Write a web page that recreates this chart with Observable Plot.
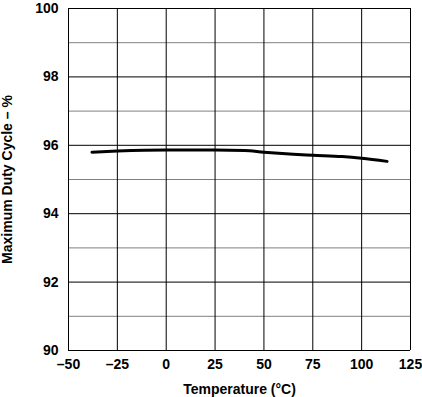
<!DOCTYPE html>
<html><head><meta charset="utf-8">
<script src="https://cdn.jsdelivr.net/npm/d3@7"></script>
<script src="https://cdn.jsdelivr.net/npm/@observablehq/plot@0.6"></script>
<style>
body{margin:0;background:#fff;}
svg{font-family:"Liberation Sans",Arial,sans-serif;font-weight:bold;}
</style></head>
<body><div id="chart"></div>
<script>
const temperature = [-38, -25, 0, 25, 40, 50, 65, 75, 90, 100, 113];
const dutyCycle = [95.80, 95.83, 95.86, 95.86, 95.85, 95.80, 95.74, 95.71, 95.67, 95.62, 95.53];
const xTicks = [-50, -25, 0, 25, 50, 75, 100, 125];
const yTicks = [90, 92, 94, 96, 98, 100];
const yMinor = [91, 93, 95, 97, 99];

const data = temperature.map((t, i) => ({t, v: dutyCycle[i]}));

const chart = Plot.plot({
  width: 422, height: 397,
  marginLeft: 68, marginRight: 12, marginTop: 8, marginBottom: 47,
  style: {fontFamily: '"Liberation Sans", Arial, sans-serif', fontWeight: "bold", fontSize: "14px", background: "#fff", color: "#000"},
  x: {domain: [-50, 125]},
  y: {domain: [90, 100]},
  marks: [
    Plot.ruleY(yMinor, {stroke: "#808080", strokeWidth: 1}),
    Plot.ruleY(yTicks, {stroke: "#000", strokeWidth: 1}),
    Plot.ruleX(xTicks, {stroke: "#000", strokeWidth: 1}),
    Plot.axisX({ticks: xTicks, tickSize: 0, tickPadding: 9, tickFormat: d => d < 0 ? "\u2013" + Math.abs(d) : String(d), label: "Temperature (°C)", labelAnchor: "center", labelArrow: "none", labelOffset: 43, fontSize: 14}),
    Plot.axisY({ticks: yTicks, tickSize: 0, tickPadding: 10, label: "Maximum Duty Cycle \u2013 %", labelAnchor: "center", labelArrow: "none", labelOffset: 66, fontSize: 14}),
    Plot.line(data, {x: "t", y: "v", stroke: "#000", strokeWidth: 3, curve: "monotone-x"})
  ]
});
document.getElementById("chart").append(chart);
</script>
</body></html>
